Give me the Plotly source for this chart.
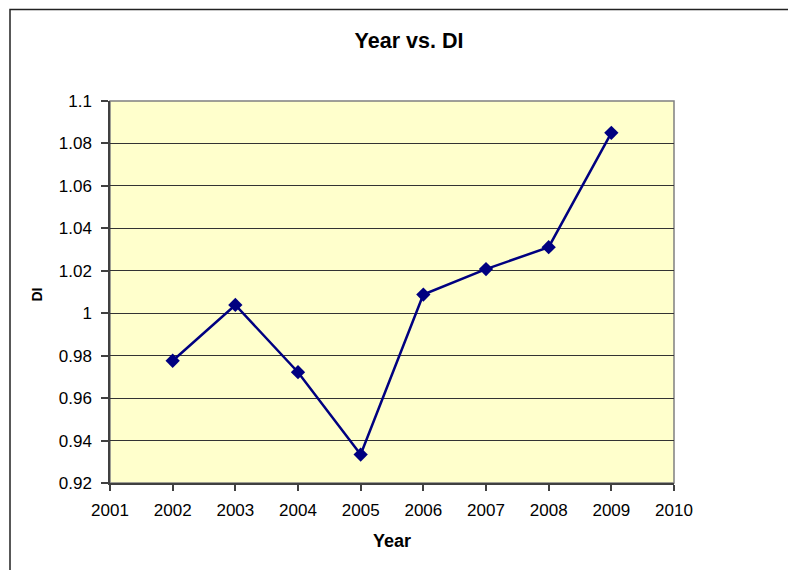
import plotly.graph_objects as go

years = [2002, 2003, 2004, 2005, 2006, 2007, 2008, 2009]
di = [0.9776, 1.0039, 0.9722, 0.9334, 1.0088, 1.0208, 1.0311, 1.085]

x_ticks = list(range(2001, 2011))
y_ticks = [0.92, 0.94, 0.96, 0.98, 1.0, 1.02, 1.04, 1.06, 1.08, 1.1]
y_tick_labels = ["0.92", "0.94", "0.96", "0.98", "1", "1.02", "1.04", "1.06", "1.08", "1.1"]

# The page body has an 8px margin, so the figure is sized/positioned to fit.
W, H = 788, 562
L, R, T, B = 102, 666, 92.5, 475.5
PW, PH = R - L, B - T


def px(x):
    return (x - L) / PW


def py(y):
    return (B - y) / PH


fig = go.Figure()
fig.add_trace(go.Scatter(
    x=years, y=di, mode="lines+markers",
    line=dict(color="#000080", width=2.5),
    marker=dict(symbol="diamond", size=11, color="#000080"),
    showlegend=False,
))

font = "Liberation Sans, Arial, sans-serif"
fig.update_layout(
    width=W, height=H,
    margin=dict(l=L, r=W - R, t=T, b=H - B, pad=0),
    paper_bgcolor="white",
    plot_bgcolor="#FFFFCC",
    font=dict(family=font, size=17, color="black"),
    title=dict(text="<b>Year vs. DI</b>", x=401 / W, xanchor="center",
               y=1 - 32.5 / H, yanchor="middle", font=dict(size=21.5, family=font)),
    xaxis=dict(
        range=[2001, 2010], tickvals=x_ticks, ticktext=[str(v) for v in x_ticks],
        showgrid=False, zeroline=False, showline=True, linecolor="#404040", linewidth=1.5,
        ticks="outside", ticklen=6, tickcolor="#404040", tickwidth=1.5,
        ticklabelstandoff=5,
    ),
    yaxis=dict(
        range=[0.92, 1.1], tickvals=y_ticks, ticktext=y_tick_labels,
        showgrid=True, gridcolor="#333333", gridwidth=1, zeroline=False,
        showline=True, linecolor="#404040", linewidth=1.5,
        ticks="outside", ticklen=7, tickcolor="#404040", tickwidth=1.5,
        ticklabelstandoff=6,
    ),
    annotations=[
        dict(text="<b>Year</b>", xref="paper", yref="paper", x=px(384), y=py(534),
             xanchor="center", yanchor="middle", showarrow=False,
             font=dict(size=18, family=font)),
        dict(text="<b>DI</b>", xref="paper", yref="paper", x=px(28.5), y=py(287),
             xanchor="center", yanchor="middle", showarrow=False, textangle=-90,
             font=dict(size=14, family=font)),
    ],
    shapes=[
        dict(type="rect", xref="paper", yref="paper", x0=0, x1=1, y0=0, y1=1,
             line=dict(color="#808080", width=1.5), layer="below"),
        dict(type="rect", xref="paper", yref="paper",
             x0=px(2), x1=px(800), y0=py(575), y1=py(0.8),
             line=dict(color="#222222", width=1.5), layer="below"),
    ],
)

fig.write_html("out.html")
